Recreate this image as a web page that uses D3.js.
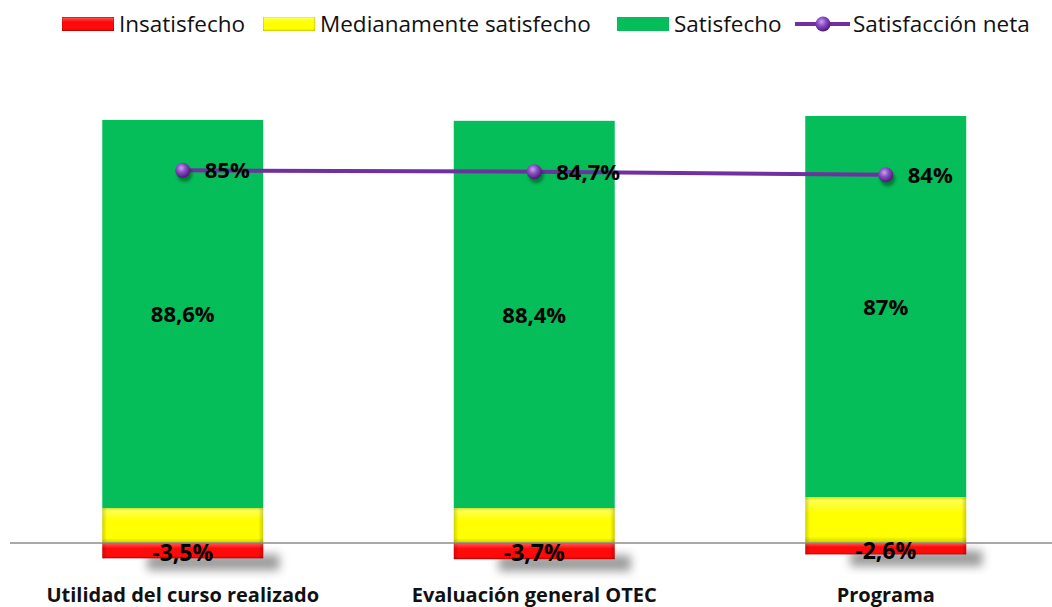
<!DOCTYPE html>
<html>
<head>
<meta charset="utf-8">
<script src="https://cdn.jsdelivr.net/npm/d3@7"></script>
<style>
  html, body { margin: 0; padding: 0; background: #fff; }
  svg { display: block; font-family: "Open Sans", "Noto Sans", sans-serif; }
</style>
</head>
<body>
<svg id="chart" width="1052" height="607"></svg>
<script>
// Categories and series (percent values)
const categories = ["Utilidad del curso realizado", "Evaluación general OTEC", "Programa"];
const insatisfecho = [-3.5, -3.7, -2.6];
const medianamente = [7.9, 7.9, 10.4];
const satisfecho = [88.6, 88.4, 87];
const satisfaccionNeta = [85, 84.7, 84];
const seriesNames = ["Insatisfecho", "Medianamente satisfecho", "Satisfecho", "Satisfacción neta"];

const fmt = v => String(v).replace(".", ",") + "%";

const svg = d3.select("#chart");
const W = 1052, H = 607;

const x = d3.scaleBand().domain(categories).range([7, 1061.5])
  .paddingInner(0.542).paddingOuter(0.271);
const y = d3.scaleLinear().domain([0, 100]).range([543, 104.6]);

const defs = svg.append("defs");

// bevelled fills for the small segments
function bevel(id, top, light, mid, dark) {
  const g = defs.append("linearGradient").attr("id", id).attr("x1", 0).attr("y1", 0).attr("x2", 0).attr("y2", 1);
  g.append("stop").attr("offset", "0%").attr("stop-color", top);
  g.append("stop").attr("offset", "7%").attr("stop-color", light);
  g.append("stop").attr("offset", "35%").attr("stop-color", mid);
  g.append("stop").attr("offset", "86%").attr("stop-color", mid);
  g.append("stop").attr("offset", "100%").attr("stop-color", dark);
}
bevel("gRed", "#c80000", "#ff4a4a", "#ff0a0a", "#b80000");
bevel("gYellow", "#e6e600", "#ffff50", "#ffff00", "#caca00");
// side shading for the bevelled segments
const side = defs.append("linearGradient").attr("id", "gSide").attr("x1", 0).attr("y1", 0).attr("x2", 1).attr("y2", 0);
side.append("stop").attr("offset", "0%").attr("stop-color", "#000").attr("stop-opacity", 0.18);
side.append("stop").attr("offset", "3%").attr("stop-color", "#000").attr("stop-opacity", 0);
side.append("stop").attr("offset", "97%").attr("stop-color", "#000").attr("stop-opacity", 0);
side.append("stop").attr("offset", "100%").attr("stop-color", "#000").attr("stop-opacity", 0.2);

const sphere = defs.append("radialGradient").attr("id", "gSphere")
  .attr("cx", "40%").attr("cy", "35%").attr("r", "65%");
sphere.append("stop").attr("offset", "0%").attr("stop-color", "#c9a2ee");
sphere.append("stop").attr("offset", "45%").attr("stop-color", "#8a4cc4");
sphere.append("stop").attr("offset", "100%").attr("stop-color", "#4a1a78");

const blur = defs.append("filter").attr("id", "fBlur").attr("x", "-50%").attr("y", "-50%").attr("width", "200%").attr("height", "200%");
blur.append("feGaussianBlur").attr("stdDeviation", 5);
const blurSmall = defs.append("filter").attr("id", "fBlurS").attr("x", "-50%").attr("y", "-50%").attr("width", "200%").attr("height", "200%");
blurSmall.append("feGaussianBlur").attr("stdDeviation", 1.6);

const bw = x.bandwidth();

// soft shadows beneath each bar foot
svg.append("g").selectAll("rect").data(categories).join("rect")
  .attr("x", d => x(d) + bw * 0.28)
  .attr("y", (d, i) => y(insatisfecho[i]) - 4)
  .attr("width", bw * 0.82)
  .attr("height", 16)
  .attr("fill", "#7a7a7a")
  .attr("opacity", 0.75)
  .attr("filter", "url(#fBlur)");

const bars = svg.append("g");
// Satisfecho (stacked above Medianamente)
bars.selectAll(".sat").data(categories).join("rect")
  .attr("x", d => x(d)).attr("width", bw)
  .attr("y", (d, i) => y(medianamente[i] + satisfecho[i]))
  .attr("height", (d, i) => y(medianamente[i]) - y(medianamente[i] + satisfecho[i]))
  .attr("fill", "#05bd59");
// Medianamente satisfecho
const medY = (d, i) => y(medianamente[i]);
const medH = (d, i) => y(0) - y(medianamente[i]);
bars.selectAll(".med").data(categories).join("rect")
  .attr("x", d => x(d)).attr("width", bw).attr("y", medY).attr("height", medH)
  .attr("fill", "url(#gYellow)");
bars.selectAll(".medS").data(categories).join("rect")
  .attr("x", d => x(d)).attr("width", bw).attr("y", medY).attr("height", medH)
  .attr("fill", "url(#gSide)");
// Insatisfecho (negative)
const insH = (d, i) => y(insatisfecho[i]) - y(0);
bars.selectAll(".ins").data(categories).join("rect")
  .attr("x", d => x(d)).attr("width", bw).attr("y", y(0)).attr("height", insH)
  .attr("fill", "url(#gRed)");
bars.selectAll(".insS").data(categories).join("rect")
  .attr("x", d => x(d)).attr("width", bw).attr("y", y(0)).attr("height", insH)
  .attr("fill", "url(#gSide)");

// zero axis line
svg.append("line").attr("x1", 10).attr("x2", W).attr("y1", y(0)).attr("y2", y(0))
  .attr("stroke", "#8c8c8c").attr("stroke-width", 1.5);

// category labels
svg.append("g").selectAll("text").data(categories).join("text")
  .attr("x", d => x(d) + bw / 2).attr("y", 602)
  .attr("text-anchor", "middle").attr("font-size", 20).attr("font-weight", 700)
  .attr("fill", "#111").text(d => d);

// Satisfacción neta line
const cx = (d) => x(d) + bw / 2;
const line = d3.line().x((v, i) => cx(categories[i])).y(v => y(v));
svg.append("path").datum(satisfaccionNeta).attr("d", line)
  .attr("fill", "none").attr("stroke", "#7030a0").attr("stroke-width", 4);
// marker shadows
svg.append("g").selectAll("circle").data(satisfaccionNeta).join("circle")
  .attr("cx", (v, i) => cx(categories[i]) + 2).attr("cy", v => y(v) + 4)
  .attr("r", 7.5).attr("fill", "#000").attr("opacity", 0.35).attr("filter", "url(#fBlurS)");
svg.append("g").selectAll("circle").data(satisfaccionNeta).join("circle")
  .attr("cx", (v, i) => cx(categories[i])).attr("cy", v => y(v))
  .attr("r", 7.5).attr("fill", "url(#gSphere)");

// value labels
const lbl = svg.append("g").attr("font-weight", 700).attr("font-size", 22).attr("fill", "#000");
lbl.selectAll(".ln").data(satisfaccionNeta).join("text")
  .attr("x", (v, i) => cx(categories[i]) + 22).attr("y", v => y(v))
  .attr("dy", "0.36em").text(v => fmt(v));
lbl.selectAll(".sl").data(satisfecho).join("text")
  .attr("x", (v, i) => cx(categories[i])).attr("y", (v, i) => y(medianamente[i] + v / 2))
  .attr("text-anchor", "middle").attr("dy", "0.36em").text(v => fmt(v));
lbl.selectAll(".il").data(insatisfecho).join("text")
  .attr("x", (v, i) => cx(categories[i])).attr("y", v => y(v / 2) + 2)
  .attr("text-anchor", "middle").attr("dy", "0.36em").attr("font-size", 23).text(v => fmt(v));

// legend
const legendItems = [
  { name: seriesNames[0], x: 62, type: "rect", fill: "url(#gRed)" },
  { name: seriesNames[1], x: 263, type: "rect", fill: "url(#gYellow)" },
  { name: seriesNames[2], x: 617, type: "rect", fill: "#05bd59" },
  { name: seriesNames[3], x: 795, type: "line" }
];
const lg = svg.append("g");
const ly = 24;
legendItems.forEach(it => {
  const g = lg.append("g");
  if (it.type === "rect") {
    g.append("rect").attr("x", it.x).attr("y", ly - 7).attr("width", 52).attr("height", 14).attr("fill", it.fill);
    if (it.fill !== "#05bd59")
      g.append("rect").attr("x", it.x).attr("y", ly - 7).attr("width", 52).attr("height", 14).attr("fill", "url(#gSide)");
  } else {
    g.append("line").attr("x1", it.x).attr("x2", it.x + 55).attr("y1", ly).attr("y2", ly)
      .attr("stroke", "#7030a0").attr("stroke-width", 4);
    g.append("circle").attr("cx", it.x + 28).attr("cy", ly).attr("r", 7.5).attr("fill", "url(#gSphere)");
  }
  g.append("text").attr("x", it.x + (it.type === "line" ? 58 : 57)).attr("y", ly).attr("dy", "0.34em")
    .attr("font-size", 22.5).attr("fill", "#111").text(it.name);
});
</script>
</body>
</html>
